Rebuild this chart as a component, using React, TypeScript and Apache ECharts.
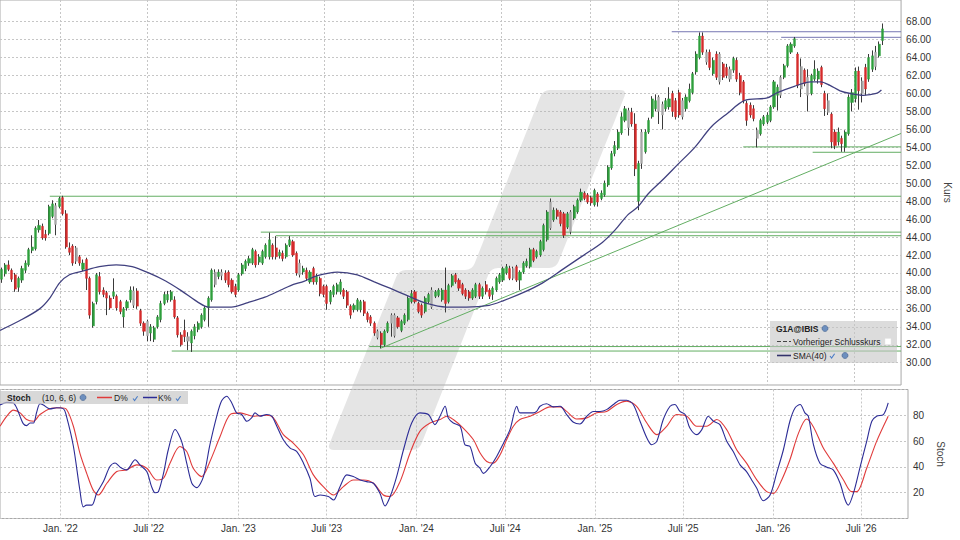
import React, { useEffect, useRef } from "react";
import * as echarts from "echarts";

// ---------- data ----------
const FIRST_WEEK = "2021-09-06"; // week index 0
const tickDates = ["2022-01-01", "2022-07-01", "2023-01-01", "2023-07-01", "2024-01-01", "2024-07-01", "2025-01-01", "2025-07-01", "2026-01-01", "2026-07-01"];
const tickLabels = ["Jan. '22", "Juli '22", "Jan. '23", "Juli '23", "Jan. '24", "Juli '24", "Jan. '25", "Juli '25", "Jan. '26", "Juli '26"];
const priceTicks = [30, 32, 34, 36, 38, 40, 42, 44, 46, 48, 50, 52, 54, 56, 58, 60, 62, 64, 66, 68];

// weekly candles [open, close, low, high]
const ohlc: number[][] = [
  [39.3, 40.4, 38.9, 40.6], [39.9, 40.9, 39.6, 41.1], [40.9, 40.4, 40.2, 41.4], [40.3, 39.3, 39.0, 40.5], [39.8, 38.2, 37.9, 40.0],
  [38.4, 39.4, 37.9, 39.6], [39.2, 40.5, 38.9, 40.8], [40.3, 41.1, 40.0, 41.4], [40.9, 42.6, 40.7, 42.8], [42.5, 42.9, 42.2, 44.2],
  [42.7, 45.0, 42.5, 45.2], [44.8, 45.3, 44.5, 45.9], [45.2, 43.9, 43.7, 45.5], [44.3, 43.9, 43.6, 44.8], [44.4, 47.4, 44.2, 47.6],
  [46.3, 47.7, 46.1, 48.1], [45.4, 47.5, 44.2, 47.8], [47.4, 48.3, 47.2, 48.5], [48.4, 46.6, 46.4, 48.6], [46.6, 42.9, 42.7, 47.0],
  [42.8, 42.3, 42.0, 43.4], [43.0, 41.1, 40.8, 43.2], [41.3, 42.8, 41.0, 43.0], [41.8, 41.1, 40.8, 42.0], [40.4, 41.1, 40.2, 41.5],
  [41.5, 39.4, 38.1, 41.7], [39.4, 35.3, 34.9, 39.6], [34.1, 36.6, 33.9, 36.8], [36.8, 39.8, 36.5, 40.0], [39.6, 37.9, 37.6, 40.1],
  [38.1, 37.6, 37.3, 38.4], [37.8, 37.2, 35.3, 38.0], [37.2, 36.1, 35.9, 37.5], [37.4, 37.9, 37.1, 39.4], [37.4, 36.1, 35.8, 37.6],
  [36.8, 35.7, 35.4, 37.0], [35.1, 36.0, 33.9, 36.2], [36.1, 36.8, 35.8, 37.0], [37.0, 38.1, 36.7, 38.5], [38.0, 36.4, 36.1, 38.5],
  [38.0, 36.3, 36.0, 38.3], [35.8, 34.4, 34.1, 36.0], [34.4, 33.5, 33.0, 34.6], [33.0, 34.6, 32.4, 34.8], [33.3, 34.0, 32.4, 34.3],
  [32.6, 33.9, 32.3, 34.1], [34.0, 35.1, 33.8, 35.3], [34.8, 36.6, 34.5, 36.9], [36.6, 37.6, 36.4, 37.9], [37.0, 37.6, 36.7, 38.0],
  [37.0, 37.9, 36.8, 38.1], [37.0, 35.1, 34.9, 37.4], [35.0, 33.1, 32.8, 35.2], [33.1, 32.0, 31.8, 33.4], [33.6, 32.9, 32.3, 34.8],
  [32.9, 32.4, 31.4, 33.4], [32.2, 33.5, 31.2, 33.7], [33.0, 34.0, 32.6, 34.3], [33.7, 34.4, 33.4, 34.6], [34.0, 35.3, 33.8, 35.5],
  [34.8, 36.1, 34.6, 36.3], [36.1, 37.2, 34.0, 37.4], [37.0, 40.3, 36.8, 40.5], [38.7, 40.1, 38.4, 40.4], [39.6, 40.1, 39.3, 40.4],
  [39.7, 40.1, 39.2, 40.4], [40.0, 39.2, 38.9, 40.3], [40.1, 38.7, 38.4, 40.3], [39.2, 37.9, 37.7, 39.4], [38.5, 37.6, 37.3, 38.8],
  [38.1, 39.8, 37.9, 40.0], [39.9, 40.9, 39.7, 41.1], [40.5, 41.3, 40.2, 41.5], [41.1, 41.6, 40.8, 41.9], [41.1, 42.6, 40.9, 42.8],
  [42.4, 40.9, 40.6, 42.6], [41.2, 41.8, 40.9, 42.1], [41.1, 42.4, 40.9, 42.6], [41.8, 43.1, 41.6, 43.3], [41.8, 43.7, 41.5, 44.5],
  [43.1, 41.8, 41.5, 43.3], [42.8, 41.8, 41.5, 44.1], [41.9, 42.3, 41.6, 42.6], [42.2, 41.6, 41.3, 42.5], [41.8, 43.1, 41.6, 43.3],
  [43.1, 43.7, 42.9, 44.1], [43.5, 42.0, 41.8, 43.7], [42.2, 40.0, 39.7, 42.4], [41.1, 39.8, 39.5, 41.5], [40.1, 40.5, 39.8, 40.8],
  [40.3, 39.4, 39.1, 40.6], [39.0, 40.1, 38.8, 40.3], [40.5, 39.0, 38.7, 40.7], [39.0, 39.6, 38.7, 39.9], [39.4, 37.7, 37.4, 39.6],
  [38.5, 37.6, 37.3, 38.7], [38.5, 36.6, 35.9, 38.7], [36.8, 37.9, 36.5, 38.1], [37.6, 38.5, 37.3, 38.7], [37.9, 38.7, 37.6, 38.9],
  [37.9, 39.0, 37.6, 39.3], [38.1, 37.4, 37.1, 38.3], [37.9, 36.4, 36.1, 38.1], [36.3, 35.3, 34.9, 36.5], [35.9, 36.4, 35.6, 36.6],
  [35.9, 37.0, 35.7, 37.2], [35.9, 36.8, 35.6, 37.0], [36.8, 35.5, 35.2, 37.0], [35.5, 34.8, 34.5, 35.7], [35.1, 34.4, 34.1, 35.3],
  [34.4, 33.3, 33.0, 34.6], [33.5, 32.8, 32.6, 33.7], [33.3, 32.0, 31.6, 33.5], [32.0, 33.5, 31.8, 33.7], [33.5, 34.4, 33.3, 34.6],
  [34.4, 35.3, 32.9, 35.5], [35.3, 33.0, 32.8, 35.5], [35.0, 34.0, 33.8, 35.2], [33.6, 34.6, 33.4, 34.8], [34.4, 35.3, 34.2, 35.5],
  [34.8, 37.2, 34.6, 37.4], [36.8, 37.7, 36.6, 38.1], [37.9, 36.8, 36.6, 38.1], [36.6, 35.7, 35.5, 36.8], [36.4, 35.3, 35.0, 36.6],
  [35.7, 37.2, 35.5, 37.4], [36.8, 37.6, 36.6, 37.8], [38.1, 36.2, 36.0, 38.4], [37.4, 37.9, 37.2, 38.1], [37.5, 38.1, 37.3, 38.3],
  [37.0, 38.1, 36.8, 38.3], [38.1, 36.6, 35.6, 40.6], [36.8, 38.6, 36.6, 38.8], [38.6, 39.7, 38.4, 39.9], [39.8, 39.0, 38.8, 40.0],
  [39.2, 38.3, 38.0, 39.4], [38.7, 37.7, 37.5, 38.9], [38.1, 37.4, 37.1, 38.3], [37.9, 37.2, 36.9, 38.1], [37.2, 38.1, 37.0, 38.3],
  [37.4, 38.7, 37.2, 38.9], [38.7, 37.4, 37.1, 38.9], [37.4, 38.3, 37.1, 38.5], [38.7, 37.9, 37.6, 39.1], [38.1, 37.4, 37.1, 38.3],
  [37.6, 38.3, 37.0, 38.5], [38.1, 39.4, 37.9, 39.6], [39.0, 39.8, 38.8, 40.0], [39.2, 40.5, 39.0, 40.7], [40.0, 40.7, 39.8, 41.0],
  [40.5, 39.4, 39.2, 40.8], [39.4, 40.5, 39.2, 40.7], [40.7, 39.2, 39.0, 40.9], [39.2, 40.1, 38.1, 40.3], [40.1, 41.1, 39.9, 41.3],
  [40.8, 41.3, 40.6, 41.6], [40.7, 42.6, 40.5, 42.8], [42.6, 41.4, 41.2, 42.8], [41.8, 42.4, 41.6, 42.6], [42.0, 43.5, 41.8, 43.7],
  [42.6, 45.3, 42.4, 45.5], [43.7, 46.8, 43.5, 47.0], [45.0, 47.9, 44.8, 48.3], [45.9, 47.0, 45.7, 47.3], [47.0, 46.3, 46.0, 47.2],
  [46.8, 45.5, 45.2, 47.0], [46.6, 44.2, 43.9, 46.8], [45.1, 46.6, 44.9, 46.8], [46.8, 44.6, 44.3, 47.0], [46.1, 47.4, 45.9, 47.6],
  [46.8, 48.1, 46.6, 48.3], [48.1, 49.0, 47.9, 49.4], [48.9, 48.3, 48.1, 49.1], [48.7, 47.9, 47.7, 48.9], [48.4, 47.8, 47.5, 48.6],
  [47.6, 49.2, 47.4, 49.4], [48.8, 47.9, 47.4, 49.0], [48.3, 48.9, 48.1, 49.2], [48.7, 50.0, 48.5, 50.3], [49.8, 51.8, 49.6, 52.0],
  [51.7, 53.3, 51.5, 53.6], [53.3, 54.2, 53.0, 54.7], [53.9, 55.7, 53.7, 56.0], [55.6, 57.4, 55.4, 57.9], [57.0, 58.3, 56.8, 58.6],
  [58.1, 56.2, 55.3, 58.4], [57.9, 56.6, 56.3, 58.4], [56.6, 51.6, 50.8, 57.8], [48.0, 52.2, 47.0, 52.5], [52.2, 55.7, 51.6, 56.0],
  [53.5, 55.7, 53.3, 56.0], [55.7, 57.0, 55.5, 57.3], [57.4, 59.4, 57.2, 59.7], [58.3, 59.2, 58.0, 59.9], [59.6, 58.0, 56.6, 59.8],
  [57.6, 58.8, 56.0, 59.1], [58.3, 59.2, 58.0, 59.5], [58.5, 59.4, 58.2, 60.7], [60.0, 58.0, 57.4, 60.3], [59.2, 57.4, 57.1, 59.5],
  [60.1, 57.6, 57.3, 60.4], [57.4, 59.2, 57.1, 59.5], [58.3, 59.6, 58.0, 59.9], [59.2, 60.5, 59.0, 61.1], [60.1, 62.2, 59.9, 62.4],
  [62.4, 64.4, 62.1, 64.7], [64.0, 66.4, 63.8, 66.8], [66.4, 64.6, 64.3, 66.8], [64.6, 63.5, 63.2, 64.9], [64.6, 62.9, 62.6, 64.9],
  [62.2, 63.7, 62.0, 64.0], [64.4, 61.8, 61.5, 64.7], [61.3, 64.4, 61.0, 64.6], [63.3, 61.8, 61.5, 63.5], [62.9, 62.0, 61.7, 63.3],
  [62.7, 61.6, 61.3, 63.0], [62.6, 63.9, 62.3, 64.1], [63.7, 61.6, 61.3, 64.0], [62.0, 60.1, 59.8, 62.3], [61.3, 59.2, 58.9, 61.5],
  [58.9, 57.0, 56.4, 59.2], [58.7, 57.6, 57.3, 59.0], [58.3, 57.2, 56.9, 58.7], [55.0, 55.9, 54.0, 56.2], [55.5, 57.0, 55.3, 57.2],
  [56.6, 57.4, 56.4, 57.6], [56.8, 57.6, 56.6, 57.9], [57.0, 58.5, 56.8, 58.7], [58.5, 61.3, 58.3, 61.5], [59.8, 60.7, 58.1, 61.0],
  [59.8, 61.8, 59.5, 62.0], [61.8, 63.1, 61.6, 63.3], [63.1, 65.3, 62.9, 65.5], [64.6, 65.5, 64.4, 65.7], [65.3, 66.1, 65.1, 66.3],
  [64.4, 60.9, 60.6, 64.6], [60.5, 63.0, 59.6, 63.9], [62.6, 61.1, 60.8, 62.8], [61.8, 59.8, 58.0, 62.7], [60.0, 62.0, 59.8, 62.2],
  [61.6, 62.7, 61.4, 63.7], [61.6, 62.5, 61.1, 62.8], [62.9, 61.0, 60.7, 63.1], [60.0, 58.3, 57.5, 60.3], [59.2, 57.9, 57.6, 60.0],
  [57.7, 54.6, 53.9, 57.9], [55.7, 54.2, 53.8, 56.0], [54.6, 55.7, 54.2, 56.2], [55.0, 54.4, 53.5, 55.3], [54.0, 55.7, 53.5, 55.9],
  [55.5, 59.6, 55.3, 59.9], [59.0, 60.1, 58.0, 60.5], [59.4, 62.5, 59.0, 62.9], [62.5, 60.3, 58.2, 63.0], [60.0, 61.4, 59.0, 61.8],
  [62.9, 60.5, 59.8, 63.3], [61.6, 64.0, 61.3, 64.4], [62.7, 64.2, 62.4, 64.8], [63.0, 64.6, 62.6, 65.3], [64.2, 65.5, 64.0, 65.8],
  [65.9, 67.2, 65.4, 67.8],
];
const grayCandles = [16, 22, 39, 43, 55, 63, 65, 88, 111, 115, 116, 127, 151, 162, 168, 185, 189, 194, 195, 201, 208, 212, 215, 223, 230, 236, 238, 244, 254, 258];

// SMA(40): [week position, value]
const sma40: number[][] = [
  [-0.5, 33.6], [5.4, 34.7], [11.2, 36.0], [14.2, 37.2], [17.1, 38.9], [20.0, 39.8], [23.8, 40.2], [28.8, 40.7], [33.8, 40.9],
  [38.5, 40.7], [43.4, 40.0], [48.4, 39.1], [53.1, 38.0], [58.1, 36.7], [61.0, 36.2], [67.8, 36.2], [72.7, 36.7], [77.7, 37.3],
  [82.4, 38.1], [85.3, 38.6], [89.4, 39.1], [93.2, 39.7], [99.1, 40.1], [105.0, 39.8], [110.0, 39.0], [114.6, 38.3], [119.6, 37.5],
  [125.5, 36.6], [131.3, 36.2], [137.2, 36.2], [143.9, 36.4], [148.0, 36.9], [153.9, 37.8], [159.7, 38.9], [165.6, 40.4],
  [171.5, 41.9], [177.3, 43.4], [181.1, 44.8], [184.9, 46.5], [187.9, 47.4], [190.8, 48.8], [194.9, 50.3], [199.6, 52.1],
  [204.6, 54.0], [209.5, 56.3], [214.3, 57.8], [219.2, 59.2], [226.0, 59.5], [229.0, 60.1], [234.0, 60.8], [238.8, 61.3],
  [241.8, 61.3], [244.5, 60.9], [247.5, 60.3], [250.5, 60.0], [254.4, 59.8], [258.2, 60.0], [259.7, 60.4],
];

const stochK: number[][] = [
  [-0.5, 88], [1.5, 90], [3.4, 89.6], [4.4, 85.7], [5.4, 79], [6.3, 73.6], [7.3, 72], [8.3, 74], [9.3, 74], [10.2, 82], [11.2, 89],
  [12.2, 88], [14.1, 85], [16.1, 85.8], [18.1, 85], [19.0, 79], [21.0, 56], [22.9, 22], [23.9, 9], [24.9, 10.4], [26.4, 10.4],
  [27.8, 19.5], [29.8, 28.6], [31.7, 40.3], [33.2, 43], [34.7, 39.8], [36.6, 37.7], [39.1, 45.5], [40.5, 41.6], [42.5, 36.4],
  [43.9, 24.7], [44.9, 20], [45.9, 20.8], [47.4, 35], [48.8, 53.3], [50.8, 69], [52.7, 59.8], [54.2, 42.9], [55.7, 27.3],
  [57.1, 23.9], [59.1, 32.5], [61.0, 57.2], [63.0, 79.3], [64.4, 91], [65.9, 94.8], [67.4, 89.6], [68.8, 81.9], [70.3, 80.6],
  [71.8, 75.4], [73.2, 78], [74.2, 81.9], [75.7, 79.3], [77.6, 80.6], [79.1, 79.3], [80.6, 71.5], [82.5, 61], [84.5, 54.6],
  [86.4, 52], [88.4, 42.9], [90.3, 31.2], [91.8, 17], [93.3, 18.2], [95.7, 17], [97.2, 14.3], [99.1, 24.7], [101.1, 33.8],
  [103.0, 32.5], [105.0, 29.9], [106.9, 28.6], [108.9, 27.3], [110.8, 19.5], [112.3, 9.7], [113.8, 17], [115.7, 32.5],
  [117.7, 53.3], [120.1, 74], [122.5, 81.9], [125.0, 80.6], [126.9, 72.8], [128.4, 79.3], [129.9, 87], [130.8, 78], [132.3, 74],
  [134.3, 71.5], [135.7, 57.2], [137.2, 55.8], [138.7, 42.9], [140.1, 39], [141.1, 35], [143.1, 40.3], [145.0, 48.1],
  [147.0, 58.4], [148.9, 68.9], [150.9, 87], [151.8, 81.9], [153.8, 81.9], [155.7, 81.9], [156.7, 83], [157.7, 87], [159.6, 89],
  [161.6, 86.5], [163.6, 87], [165.5, 80.6], [167.5, 74.6], [169.4, 73.3], [171.4, 79.3], [173.3, 83], [175.3, 83], [177.2, 84.4],
  [179.2, 88.4], [181.1, 91.7], [183.1, 91.7], [185.0, 88.4], [187.0, 75.4], [189.0, 62.4], [190.4, 57.2], [191.9, 59.8],
  [193.8, 76.7], [195.8, 87], [197.2, 88.4], [198.7, 83], [200.2, 80.6], [201.6, 70.1], [203.6, 65], [205.1, 68.9], [207.0, 79.3],
  [208.5, 75.4], [210.4, 72.8], [212.4, 59.8], [214.3, 51.9], [216.3, 41.6], [218.2, 36.4], [219.7, 29.9], [221.2, 23.4],
  [223.1, 13.8], [225.1, 18.2], [227.0, 35], [229.0, 53.3], [230.9, 75.4], [232.4, 85.7], [233.9, 88.4], [235.3, 81.9],
  [236.3, 79.3], [237.8, 57.2], [239.7, 42.9], [241.7, 39.8], [243.6, 37.7], [245.6, 27.3], [247.1, 14.3], [248.0, 10.4],
  [249.5, 19.5], [251.5, 40.3], [253.4, 59.8], [254.9, 75.4], [256.3, 79.3], [258.3, 80.6], [259.7, 89.6],
];

const stochD: number[][] = [
  [-0.5, 71.5], [1.5, 79.3], [3.4, 84], [5.4, 81.9], [7.3, 76.7], [9.3, 75.4], [11.2, 80.6], [14.1, 85], [17.1, 85.8], [19.0, 84.5],
  [21.0, 71.5], [22.9, 50.7], [24.9, 35], [26.8, 22], [28.3, 18.2], [30.8, 27.3], [33.7, 36.4], [36.6, 37.7], [39.5, 41.6],
  [42.5, 39], [45.4, 29.9], [47.4, 31.2], [49.3, 42.9], [52.2, 55.8], [54.2, 51.9], [56.1, 39], [58.6, 32.5], [61.0, 44.2],
  [64.0, 63.7], [66.9, 80.6], [69.8, 81.9], [73.7, 79.3], [77.6, 80], [79.6, 78], [82.5, 65], [85.4, 58.5], [88.4, 49.4],
  [91.3, 33.8], [94.2, 24.7], [97.2, 18.2], [100.1, 24.7], [103.0, 29.9], [106.0, 29.9], [108.9, 27.3], [111.8, 18.2], [113.8, 17],
  [116.7, 28.6], [119.6, 50.6], [122.5, 67.5], [125.5, 74], [128.4, 76.7], [130.4, 79.3], [132.3, 76.7], [135.2, 70.1],
  [138.2, 61], [140.1, 51], [142.1, 44.2], [144.0, 42.9], [146.0, 49.4], [147.9, 61], [149.9, 71.5], [151.8, 76.7], [154.8, 79.3],
  [157.7, 83], [160.6, 86.5], [163.6, 86.5], [165.5, 83], [168.4, 77.1], [171.4, 78], [174.3, 81.9], [177.2, 83], [180.2, 88.4],
  [183.1, 91], [186.0, 87], [189.0, 74], [191.9, 65], [194.8, 71.5], [197.7, 80.6], [200.7, 79.3], [203.6, 71.5], [206.5, 71.5],
  [209.5, 76.7], [212.4, 68.8], [215.3, 53.3], [218.2, 42.9], [221.2, 29.9], [224.1, 20.8], [226.1, 19.5], [228.5, 29.9],
  [230.9, 45.5], [233.4, 66], [235.8, 77.1], [237.8, 71], [240.7, 54.6], [243.6, 42.9], [246.6, 29.9], [249.0, 20.8],
  [250.5, 20.8], [253.4, 39], [256.3, 59.8], [259.7, 79.3],
];

// horizontal levels [from week position, price]
const supportLevels: number[][] = [
  [14.2, 48.55], [76.5, 44.55], [80.9, 44.15], [50.2, 31.3], [108.5, 31.8], [218.9, 54.05], [239.4, 53.45],
];
const resistanceLevels: number[][] = [[197.8, 66.88], [230.1, 66.26]];
const trendLine: number[][] = [[111.8, 31.6], [265.5, 55.55]];

// ---------- styles ----------
const FONT = "Liberation Sans";
const GREEN = "#2e9f3c";
const RED = "#d52b2b";
const GRAY = "#a8a8a8";
const WICK = "#3a3a3a";
const LEVEL_GREEN = "#63ae63";
const LEVEL_PURPLE = "#7676b2";
const SMA_COLOR = "#40407f";
const K_COLOR = "#2c2c96";
const D_COLOR = "#e03b3b";
const GRID_LINE = "#c6c6c6";
const X_MAX = 265.5;

const DAY = 86400000;
const weekPos = (d: string) => (Date.parse(d) - Date.parse(FIRST_WEEK)) / (7 * DAY) + 0.5;
const tickPos = tickDates.map(weekPos);

// watermark shape (rounded step polygon), registered as a custom shape
function roundedPath(pts: number[][], r: number) {
  let d = "";
  const n = pts.length;
  for (let k = 0; k < n; k++) {
    const p0 = pts[(k - 1 + n) % n], p1 = pts[k], p2 = pts[(k + 1) % n];
    const l1 = Math.hypot(p0[0] - p1[0], p0[1] - p1[1]);
    const l2 = Math.hypot(p2[0] - p1[0], p2[1] - p1[1]);
    const a = [p1[0] + ((p0[0] - p1[0]) / l1) * r, p1[1] + ((p0[1] - p1[1]) / l1) * r];
    const b = [p1[0] + ((p2[0] - p1[0]) / l2) * r, p1[1] + ((p2[1] - p1[1]) / l2) * r];
    d += (k === 0 ? "M" : "L") + a[0].toFixed(1) + " " + a[1].toFixed(1) + " Q" + p1[0] + " " + p1[1] + " " + b[0].toFixed(1) + " " + b[1].toFixed(1) + " ";
  }
  return d + "Z";
}
const logoPts = [[543, 90], [627, 90], [556, 268], [491, 268], [419, 450], [327, 450], [399, 270], [472, 270]];
let logoRegistered = false;
function registerLogo() {
  if (logoRegistered) return;
  echarts.graphic.registerShape("logo", echarts.graphic.extendPath(roundedPath(logoPts, 7), {}) as any);
  logoRegistered = true;
}

function check(x: number, y: number) {
  return { type: "polyline", z: 12, silent: true, shape: { points: [[x, y], [x + 1.6, y + 2], [x + 4.6, y - 2.2]] }, style: { stroke: "#4a7cc6", lineWidth: 1.1, fill: "none" } };
}
function globe(x: number, y: number) {
  return { type: "circle", z: 12, silent: true, shape: { cx: x, cy: y, r: 3 }, style: { fill: "#6d8fbe", stroke: "#3c5d8c", lineWidth: 0.6 } };
}
function label(text: string, x: number, y: number, bold = false, size = 8.5) {
  return { type: "text", z: 12, silent: true, x, y, style: { text, fill: "#222", fontSize: size, fontWeight: bold ? "bold" : "normal", fontFamily: FONT, verticalAlign: "middle", align: "left" } };
}

export default function App() {
  const ref = useRef<HTMLDivElement>(null);
  useEffect(() => {
    if (!ref.current) return;
    registerLogo();
    const chart = echarts.init(ref.current, undefined, { renderer: "svg" });
    const gray = new Set(grayCandles);

    const wickData = ohlc.map((c, i) => [i, c[0], c[1], c[2], c[3]]);
    const bodyData = ohlc.map((c, i) => {
      const item: any = { value: [i, c[0], c[1], Math.min(c[0], c[1]), Math.max(c[0], c[1])] };
      if (gray.has(i)) item.itemStyle = { color: GRAY, color0: GRAY, borderColor: GRAY, borderColor0: GRAY };
      return item;
    });

    const levelSeries = [
      ...supportLevels.map((l) => ({ c: LEVEL_GREEN, l })),
      ...resistanceLevels.map((l) => ({ c: LEVEL_PURPLE, l })),
    ].map(({ c, l }) => ({
      type: "line", xAxisIndex: 0, yAxisIndex: 0, z: 2, silent: true, showSymbol: false, symbol: "none",
      data: [[l[0], l[1]], [X_MAX, l[1]]], lineStyle: { color: c, width: 1 },
    }));

    const xFormatter = (v: number) => {
      const k = tickPos.findIndex((p) => Math.abs(p - v) < 0.01);
      return k >= 0 ? tickLabels[k] : "";
    };
    const dotted = { show: true, lineStyle: { color: GRID_LINE, type: [2, 2], width: 1 } };

    const option: any = {
      animation: false,
      backgroundColor: "#ffffff",
      textStyle: { fontFamily: FONT },
      grid: [
        { left: 0, top: 0, width: 908, height: 385, show: true, borderColor: "#a9a9a9", borderWidth: 1 },
        { left: 0, top: 389.5, width: 908, height: 129, show: true, borderColor: "#a9a9a9", borderWidth: 1 },
      ],
      xAxis: [
        {
          type: "value", gridIndex: 0, min: -0.5, max: X_MAX,
          axisLine: { show: false }, axisTick: { show: false, customValues: tickPos },
          axisLabel: { show: false, customValues: tickPos }, splitLine: dotted,
        },
        {
          type: "value", gridIndex: 1, min: -0.5, max: X_MAX,
          axisLine: { show: false }, axisTick: { show: false, customValues: tickPos },
          axisLabel: { show: true, customValues: tickPos, formatter: xFormatter, color: "#333", fontSize: 10, margin: 5, fontFamily: FONT },
          splitLine: dotted,
        },
      ],
      yAxis: [
        {
          type: "value", gridIndex: 0, position: "right", min: 27.515, max: 70.418,
          axisLine: { show: false }, axisTick: { show: false, customValues: priceTicks },
          axisLabel: { customValues: priceTicks, formatter: (v: number) => v.toFixed(2), color: "#333", fontSize: 10, margin: 5, fontFamily: FONT },
          splitLine: dotted,
          name: "Kurs", nameLocation: "middle", nameRotate: -90, nameGap: 38,
          nameTextStyle: { color: "#444", fontSize: 10, fontFamily: FONT },
        },
        {
          type: "value", gridIndex: 1, position: "right", min: 0, max: 100, interval: 20,
          axisLine: { show: false }, axisTick: { show: false },
          axisLabel: { showMinLabel: false, showMaxLabel: false, color: "#333", fontSize: 10, margin: 5, fontFamily: FONT },
          splitLine: dotted,
          name: "Stoch", nameLocation: "middle", nameRotate: -90, nameGap: 25,
          nameTextStyle: { color: "#444", fontSize: 10, fontFamily: FONT },
        },
      ],
      series: [
        ...levelSeries,
        {
          type: "line", xAxisIndex: 0, yAxisIndex: 0, z: 2, silent: true, showSymbol: false, symbol: "none",
          data: trendLine, lineStyle: { color: LEVEL_GREEN, width: 1 },
        },
        {
          type: "candlestick", name: "wick", xAxisIndex: 0, yAxisIndex: 0, z: 3, silent: true, barWidth: 1,
          data: wickData,
          itemStyle: { color: WICK, color0: WICK, borderColor: WICK, borderColor0: WICK, borderWidth: 1 },
        },
        {
          type: "candlestick", name: "G1A@IBIS", xAxisIndex: 0, yAxisIndex: 0, z: 4, silent: true, barWidth: 2.6,
          data: bodyData,
          itemStyle: { color: GREEN, color0: RED, borderColor: GREEN, borderColor0: RED, borderWidth: 0.4 },
        },
        {
          type: "line", name: "SMA(40)", xAxisIndex: 0, yAxisIndex: 0, z: 5, silent: true, showSymbol: false, symbol: "none",
          smooth: 0.3, data: sma40, lineStyle: { color: SMA_COLOR, width: 1.3 },
        },
        {
          type: "line", name: "D%", xAxisIndex: 1, yAxisIndex: 1, z: 4, silent: true, showSymbol: false, symbol: "none",
          smooth: 0.3, data: stochD, lineStyle: { color: D_COLOR, width: 1.1 },
        },
        {
          type: "line", name: "K%", xAxisIndex: 1, yAxisIndex: 1, z: 5, silent: true, showSymbol: false, symbol: "none",
          smooth: 0.3, data: stochK, lineStyle: { color: K_COLOR, width: 1.1 },
        },
      ],
      graphic: [
        { type: "logo", x: 0, y: 0, z: 1, silent: true, style: { fill: "rgba(175,175,175,0.33)" } },
        // legend box of the price panel
        { type: "rect", z: 10, silent: true, shape: { x: 770, y: 321, width: 127, height: 42 }, style: { fill: "rgba(196,196,196,0.6)" } },
        label("G1A@IBIS", 776, 328.5, true, 8.5),
        globe(825, 328.5),
        { type: "line", z: 12, silent: true, shape: { x1: 777, y1: 341.5, x2: 791, y2: 341.5 }, style: { stroke: "#444", lineWidth: 1.2, lineDash: [4, 2] } },
        label("Vorheriger Schlusskurs", 793, 341.5),
        { type: "rect", z: 12, silent: true, shape: { x: 885, y: 338.5, width: 6, height: 6 }, style: { fill: "#ffffff", stroke: "#e6e6e6", lineWidth: 0.5 } },
        { type: "line", z: 12, silent: true, shape: { x1: 777, y1: 355.5, x2: 791, y2: 355.5 }, style: { stroke: "#33336b", lineWidth: 1.6 } },
        label("SMA(40)", 793, 355.5),
        check(830, 356),
        globe(845, 355.5),
        // stoch header
        { type: "rect", z: 10, silent: true, shape: { x: 0, y: 391, width: 188, height: 13 }, style: { fill: "rgba(200,200,200,0.7)" } },
        label("Stoch", 7, 397.5, true, 8.5),
        label("(10, 6, 6)", 42, 397.5, false, 8.5),
        globe(83, 397.5),
        { type: "line", z: 12, silent: true, shape: { x1: 97, y1: 397.5, x2: 112, y2: 397.5 }, style: { stroke: D_COLOR, lineWidth: 1.5 } },
        label("D%", 114, 397.5),
        check(133, 398.5),
        { type: "line", z: 12, silent: true, shape: { x1: 143, y1: 397.5, x2: 157, y2: 397.5 }, style: { stroke: K_COLOR, lineWidth: 1.5 } },
        label("K%", 158, 397.5),
        check(176, 398.5),
      ],
    };
    chart.setOption(option);
    return () => chart.dispose();
  }, []);
  return <div ref={ref} style={{ position: "fixed", left: 0, top: 0, width: 960, height: 540, background: "#fff" }} />;
}
